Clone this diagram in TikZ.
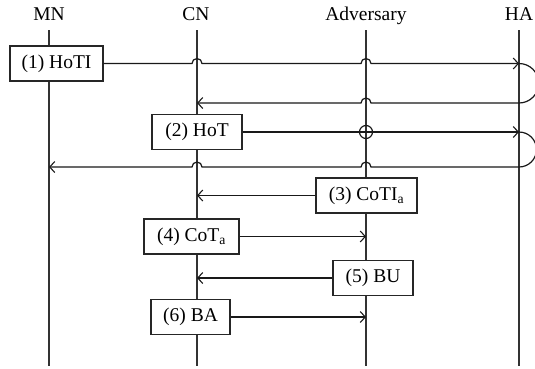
\documentclass[tikz,border=0pt]{standalone}
\usepackage{fontspec}
\setmainfont{Liberation Serif}
\usetikzlibrary{arrows.meta}
\begin{document}
\begin{tikzpicture}[x=1pt,y=1pt,
  font=\fontsize{19.5}{22}\selectfont,
  lifeline/.style={draw=black!80,line width=1.2pt},
  msgbox/.style={draw=black!85,line width=1.1pt,fill=white,minimum height=35pt,inner sep=0pt},
  msg/.style={draw=black!90,line width=1.2pt,-{Straight Barb[length=5pt,width=11pt,line width=1.1pt]}},
  msgline/.style={draw=black!90,line width=1.2pt},
  head/.style={inner sep=0pt,anchor=base}]
\useasboundingbox (0,0) rectangle (535,-368);
\clip (0,0) rectangle (535,-368);
% headers
\node[head] (MN) at (49,-20) {MN};
\node[head] (CN) at (196,-20) {CN};
\node[head] (AD) at (366,-20) {Adversary};
\node[head] (HA) at (519,-20) {HA};
% lifelines
\coordinate (MNt) at (49,-30);  \coordinate (MNb) at (49,-366);
\coordinate (CNt) at (197,-30); \coordinate (CNb) at (197,-366);
\coordinate (ADt) at (366,-30); \coordinate (ADb) at (366,-366);
\coordinate (HAt) at (519,-30); \coordinate (HAb) at (519,-366);
\draw[lifeline] (MNt) -- (MNb);
\draw[lifeline] (CNt) -- (CNb);
\draw[lifeline] (ADt) -- (ADb);
\draw[lifeline] (HAt) -- (HAb);
% boxes
\node[msgbox,minimum width=93pt] (b1) at (56.5,-63.5) {(1) HoTI};
\node[msgbox,minimum width=90pt] (b2) at (197,-132) {(2) HoT};
\node[msgbox,minimum width=101pt] (b3) at (366.5,-195.5) {(3) CoTI\textsubscript{a}};
\node[msgbox,minimum width=95pt] (b4) at (191.5,-236.5) {(4) CoT\textsubscript{a}};
\node[msgbox,minimum width=80pt] (b5) at (373,-278) {(5) BU};
\node[msgbox,minimum width=79pt] (b6) at (190.5,-317) {(6) BA};
% points on lifelines
\coordinate (HA1) at (519,-63.5);
\coordinate (HA2) at (519,-103);
\coordinate (CN2) at (197,-103);
\coordinate (HA3) at (519,-132);
\coordinate (HA4) at (519,-167);
\coordinate (MN4) at (49,-167);
\coordinate (CN5) at (197,-195.5);
\coordinate (AD6) at (366,-236.5);
\coordinate (CN7) at (197,-278);
\coordinate (AD8) at (366,-317);
\coordinate (X3) at (366,-132);
% message 1
\draw[msg] (b1.east) -- (192,-63.5) arc (180:0:5) -- (361,-63.5) arc (180:0:5) -- (HA1);
\draw[msgline] (HA1) arc (90:-90:19.75);
% message 1 return
\draw[msg] (HA2) -- (371,-103) arc (0:180:5) -- (CN2);
% message 2
\draw[msg] (b2.east) -- (HA3);
\draw[msgline] (X3) circle (6.5);
\draw[msgline] (HA3) arc (90:-90:17.5);
\draw[msg] (HA4) -- (371,-167) arc (0:180:5) -- (202,-167) arc (0:180:5) -- (MN4);
% messages 3-6
\draw[msg] (b3.west) -- (CN5);
\draw[msg] (b4.east) -- (AD6);
\draw[msg] (b5.west) -- (CN7);
\draw[msg] (b6.east) -- (AD8);
\end{tikzpicture}
\end{document}
